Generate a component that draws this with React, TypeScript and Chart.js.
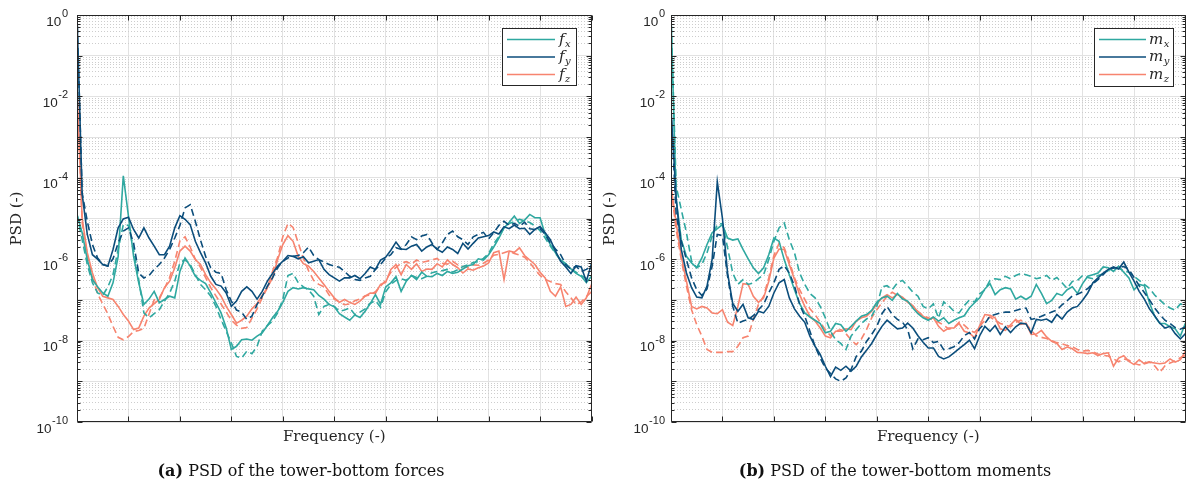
import React, { useEffect, useRef } from 'react';
import { Chart, registerables } from 'chart.js';

Chart.register(...registerables);

// Frequency axis (normalised, no tick labels in the reference)
const freq = [
  0, 0.1, 0.2, 0.3, 0.4, 0.5, 0.6, 0.7, 0.8, 0.9,
  1, 1.1, 1.2, 1.3, 1.4, 1.5, 1.6, 1.7, 1.8, 1.9,
  2, 2.1, 2.2, 2.3, 2.4, 2.5, 2.6, 2.7, 2.8, 2.9,
  3, 3.1, 3.2, 3.3, 3.4, 3.5, 3.6, 3.7, 3.8, 3.9,
  4, 4.1, 4.2, 4.3, 4.4, 4.5, 4.6, 4.7, 4.8, 4.9,
  5, 5.1, 5.2, 5.3, 5.4, 5.5, 5.6, 5.7, 5.8, 5.9,
  6, 6.1, 6.2, 6.3, 6.4, 6.5, 6.6, 6.7, 6.8, 6.9,
  7, 7.1, 7.2, 7.3, 7.4, 7.5, 7.6, 7.7, 7.8, 7.9,
  8, 8.1, 8.2, 8.3, 8.4, 8.5, 8.6, 8.7, 8.8, 8.9,
  9, 9.1, 9.2, 9.3, 9.4, 9.5, 9.6, 9.7, 9.8, 9.9,
  10,
];

// ---- Panel (a): log10(PSD) of tower-bottom forces ----
const fxSolid = [
  -4.90, -5.35, -6.01, -6.50, -6.68, -6.83, -6.91, -6.58, -5.93, -3.95,
  -4.94, -5.93, -6.58, -7.11, -6.98, -6.79, -7.07, -6.99, -6.91, -6.95,
  -6.30, -5.97, -6.17, -6.42, -6.52, -6.60, -6.83, -7.07, -7.32, -7.69,
  -8.22, -8.14, -7.98, -7.96, -7.99, -7.89, -7.81, -7.63, -7.44, -7.28,
  -7.06, -6.79, -6.70, -6.73, -6.70, -6.73, -6.75, -6.89, -6.98, -7.11,
  -7.17, -7.34, -7.42, -7.50, -7.37, -7.43, -7.28, -7.09, -6.87, -7.11,
  -6.68, -6.58, -6.43, -6.79, -6.54, -6.40, -6.50, -6.32, -6.42, -6.43,
  -6.35, -6.40, -6.30, -6.35, -6.32, -6.24, -6.16, -6.13, -5.99, -6.02,
  -5.89, -5.70, -5.48, -5.23, -5.09, -4.94, -5.12, -5.04, -4.90, -4.98,
  -4.98, -5.39, -5.64, -5.84, -6.02, -6.11, -6.24, -6.35, -6.42, -6.57,
  -6.42,
];
const fxDashed = [
  -4.90, -5.52, -6.13, -6.58, -6.83, -6.89, -6.68, -6.38, -5.76, -5.15,
  -5.17, -5.76, -6.50, -7.32, -7.44, -7.34, -7.24, -7.03, -6.83, -6.54,
  -6.09, -6.01, -6.13, -6.38, -6.62, -6.75, -6.91, -7.16, -7.48, -7.77,
  -8.06, -8.39, -8.43, -8.26, -8.32, -8.14, -7.77, -7.63, -7.52, -7.32,
  -6.99, -6.40, -6.35, -6.58, -6.68, -6.75, -6.91, -7.36, -7.16, -7.11,
  -7.16, -7.28, -7.25, -7.20, -7.36, -7.30, -7.22, -7.08, -7.02, -7.18,
  -6.80, -6.62, -6.52, -6.48, -6.52, -6.40, -6.45, -6.48, -6.42, -6.33,
  -6.30, -6.28, -6.25, -6.32, -6.26, -6.18, -6.14, -6.08, -6.06, -5.98,
  -5.86, -5.62, -5.45, -5.22, -5.12, -5.08, -5.02, -5.06, -5.10, -5.18,
  -5.30, -5.48, -5.68, -5.86, -6.02, -6.15, -6.24, -6.32, -6.40, -6.48,
  -6.45,
];
const fySolid = [
  0, -4.40, -5.39, -5.89, -6.00, -6.13, -6.17, -5.76, -5.23, -5.01,
  -4.97, -5.27, -5.48, -5.23, -5.48, -5.68, -5.89, -5.89, -5.68, -5.23,
  -4.93, -5.02, -5.15, -5.56, -5.84, -6.09, -6.42, -6.62, -6.66, -6.83,
  -7.16, -7.03, -6.79, -6.68, -6.79, -6.98, -6.79, -6.54, -6.35, -6.17,
  -6.05, -5.91, -5.93, -5.99, -5.94, -6.09, -6.05, -6.01, -6.25, -6.38,
  -6.46, -6.54, -6.46, -6.46, -6.40, -6.48, -6.35, -6.19, -6.25, -6.02,
  -5.95, -5.78, -5.58, -5.75, -5.76, -5.68, -5.64, -5.80, -5.70, -5.64,
  -5.76, -5.83, -5.70, -5.76, -5.86, -5.61, -5.75, -5.61, -5.48, -5.45,
  -5.42, -5.33, -5.38, -5.20, -5.25, -5.16, -5.25, -5.24, -5.39, -5.27,
  -5.20, -5.35, -5.52, -5.80, -6.05, -6.19, -6.35, -6.16, -6.19, -6.54,
  -6.11,
];
const fyDashed = [
  0, -4.37, -5.07, -5.64, -5.97, -6.13, -6.17, -5.99, -5.60, -5.31,
  -5.23, -5.60, -6.34, -6.46, -6.40, -6.25, -6.13, -5.97, -5.76, -5.48,
  -5.17, -4.74, -4.66, -5.07, -5.53, -5.93, -6.21, -6.32, -6.35, -6.75,
  -7.03, -7.25, -7.30, -7.48, -7.40, -7.11, -6.91, -6.66, -6.46, -6.21,
  -6.05, -5.97, -5.93, -5.91, -5.84, -5.70, -5.91, -6.01, -6.07, -6.13,
  -6.17, -6.20, -6.30, -6.42, -6.50, -6.52, -6.46, -6.42, -6.25, -6.13,
  -5.97, -5.89, -5.72, -5.76, -5.64, -5.45, -5.52, -5.43, -5.39, -5.60,
  -5.76, -5.60, -5.39, -5.31, -5.45, -5.52, -5.64, -5.45, -5.39, -5.34,
  -5.50, -5.35, -5.17, -5.07, -5.17, -5.12, -5.19, -5.09, -5.25, -5.27,
  -5.25, -5.39, -5.60, -5.75, -5.89, -6.13, -6.25, -6.17, -6.30, -6.25,
  -6.17,
];
const fzSolid = [
  -1.84, -5.00, -5.84, -6.34, -6.70, -6.91, -6.95, -6.99, -7.16, -7.36,
  -7.52, -7.73, -7.69, -7.40, -7.20, -7.09, -6.99, -6.70, -6.54, -6.21,
  -5.80, -5.68, -5.80, -6.01, -6.13, -6.38, -6.58, -6.73, -6.91, -7.16,
  -7.36, -7.57, -7.50, -7.40, -7.22, -7.09, -6.89, -6.70, -6.46, -6.01,
  -5.64, -5.42, -5.56, -5.93, -6.11, -6.17, -6.30, -6.46, -6.62, -6.79,
  -6.95, -7.06, -6.99, -7.06, -7.11, -7.03, -6.91, -6.83, -6.84, -6.62,
  -6.57, -6.25, -6.13, -6.38, -6.13, -6.25, -6.11, -6.30, -6.24, -6.25,
  -6.11, -6.19, -6.02, -6.13, -6.21, -6.34, -6.24, -6.27, -6.21, -6.17,
  -6.09, -5.84, -5.80, -6.50, -5.80, -5.83, -5.72, -5.91, -6.02, -6.13,
  -6.32, -6.46, -6.79, -6.91, -6.68, -7.16, -7.11, -6.93, -7.11, -6.95,
  -6.62,
];
const fzDashed = [
  -1.84, -5.10, -5.90, -6.45, -6.85, -7.10, -7.35, -7.65, -7.92, -7.98,
  -7.90, -7.78, -7.75, -7.70, -7.35, -7.00, -6.95, -6.72, -6.45, -6.05,
  -5.55, -5.45, -5.70, -6.00, -6.20, -6.45, -6.70, -6.90, -7.10, -7.30,
  -7.50, -7.62, -7.70, -7.68, -7.45, -7.22, -6.95, -6.70, -6.30, -5.95,
  -5.45, -5.12, -5.22, -5.60, -5.98, -6.28, -6.52, -6.62, -6.68, -6.88,
  -6.98, -7.05, -7.12, -7.10, -7.02, -6.98, -6.90, -6.88, -6.80, -6.66,
  -6.52, -6.32, -6.20, -6.10, -6.06, -6.12, -6.02, -6.08, -6.05, -6.02,
  -5.98, -6.10, -6.12, -6.05, -6.14, -6.18, -6.20, -6.14, -6.15, -6.10,
  -6.02, -5.90, -5.88, -5.84, -5.80, -5.86, -5.90, -5.95, -6.08, -6.25,
  -6.40, -6.50, -6.55, -6.60, -6.62, -6.80, -6.95, -7.12, -7.05, -6.92,
  -6.80,
];

// ---- Panel (b): log10(PSD) of tower-bottom moments ----
const mxSolid = [
  0, -4.53, -5.52, -5.93, -6.09, -6.21, -5.97, -5.64, -5.35, -5.25,
  -5.15, -5.48, -5.53, -5.50, -5.76, -5.99, -6.21, -6.35, -6.21, -5.89,
  -5.48, -5.56, -6.01, -6.38, -6.75, -7.09, -7.32, -7.42, -7.50, -7.58,
  -7.81, -7.77, -7.58, -7.61, -7.77, -7.65, -7.52, -7.40, -7.36, -7.26,
  -7.06, -6.95, -6.91, -7.01, -6.84, -6.98, -7.03, -7.20, -7.34, -7.44,
  -7.50, -7.42, -7.52, -7.44, -7.58, -7.50, -7.44, -7.39, -7.20, -7.07,
  -6.95, -6.73, -6.60, -6.87, -6.75, -6.70, -6.73, -6.98, -6.91, -6.99,
  -6.91, -6.62, -6.84, -7.09, -7.01, -6.84, -6.89, -6.75, -6.68, -6.84,
  -6.60, -6.42, -6.38, -6.34, -6.19, -6.21, -6.30, -6.17, -6.32, -6.46,
  -6.75, -6.62, -6.65, -7.07, -7.40, -7.58, -7.58, -7.66, -7.71, -7.89,
  -7.57,
];
const mxDashed = [
  0, -4.20, -4.78, -5.35, -6.05, -6.21, -6.13, -5.84, -5.43, -5.15,
  -5.12, -5.72, -6.34, -6.62, -6.50, -6.62, -6.58, -6.48, -6.38, -6.01,
  -5.56, -5.23, -5.11, -5.52, -5.84, -6.34, -6.62, -6.84, -6.95, -7.16,
  -7.44, -7.77, -7.98, -8.07, -8.22, -7.89, -7.73, -7.58, -7.47, -7.40,
  -7.16, -6.68, -6.65, -6.75, -6.58, -6.52, -6.66, -6.81, -6.91, -7.16,
  -7.22, -7.10, -7.45, -7.05, -7.15, -7.28, -7.32, -7.14, -7.00, -7.05,
  -6.85, -6.75, -6.52, -6.48, -6.50, -6.42, -6.48, -6.40, -6.35, -6.38,
  -6.42, -6.48, -6.45, -6.40, -6.52, -6.45, -6.58, -6.72, -6.55, -6.52,
  -6.40, -6.45, -6.48, -6.40, -6.36, -6.28, -6.20, -6.22, -6.28, -6.32,
  -6.42, -6.52, -6.62, -6.72, -6.88, -7.00, -7.12, -7.20, -7.25, -7.10,
  -7.14,
];
const mySolid = [
  -2.30, -4.50, -5.76, -6.34, -6.70, -6.93, -6.95, -6.66, -6.00, -4.10,
  -5.00, -6.34, -7.09, -7.28, -7.11, -7.44, -7.48, -7.28, -7.32, -7.16,
  -6.83, -6.58, -6.50, -6.95, -7.22, -7.40, -7.55, -7.89, -8.14, -8.34,
  -8.63, -8.88, -8.65, -8.73, -8.63, -8.75, -8.63, -8.40, -8.24, -8.07,
  -7.85, -7.65, -7.50, -7.61, -7.71, -7.69, -7.57, -7.69, -7.88, -8.04,
  -8.18, -8.18, -8.39, -8.45, -8.40, -8.30, -8.20, -8.10, -7.99, -8.20,
  -7.88, -7.65, -7.77, -7.63, -7.85, -7.66, -7.80, -7.66, -7.57, -7.59,
  -7.81, -7.48, -7.50, -7.47, -7.55, -7.36, -7.47, -7.30, -7.20, -7.16,
  -7.01, -6.83, -6.58, -6.46, -6.34, -6.25, -6.19, -6.24, -6.07, -6.32,
  -6.54, -6.79, -6.98, -7.22, -7.39, -7.57, -7.69, -7.65, -7.83, -7.96,
  -7.83,
];
const myDashed = [
  -2.30, -4.90, -5.56, -6.01, -6.46, -6.75, -6.89, -6.73, -6.17, -5.39,
  -5.42, -6.42, -7.16, -7.57, -7.52, -7.48, -7.39, -7.24, -7.11, -6.83,
  -6.58, -6.25, -6.16, -6.34, -6.66, -7.11, -7.40, -7.77, -8.14, -8.43,
  -8.67, -8.81, -8.94, -9.00, -8.92, -8.71, -8.39, -8.26, -8.02, -7.85,
  -7.65, -7.34, -7.16, -7.36, -7.48, -7.55, -7.73, -8.20, -7.96, -7.98,
  -7.93, -8.05, -8.02, -8.22, -8.20, -8.15, -8.05, -7.88, -7.80, -7.96,
  -7.70, -7.58, -7.40, -7.36, -7.32, -7.30, -7.30, -7.26, -7.22, -7.20,
  -7.48, -7.45, -7.40, -7.35, -7.30, -7.25, -7.12, -7.02, -6.90, -6.86,
  -6.80, -6.72, -6.60, -6.50, -6.38, -6.25, -6.22, -6.20, -6.18, -6.25,
  -6.45, -6.65, -6.82, -7.00, -7.20, -7.36, -7.50, -7.58, -7.68, -7.72,
  -7.66,
];
const mzSolid = [
  -4.20, -5.11, -5.93, -6.54, -7.16, -7.22, -7.16, -7.20, -7.32, -7.34,
  -7.24, -7.55, -7.63, -7.16, -6.60, -6.62, -6.91, -7.06, -6.95, -6.54,
  -5.97, -5.75, -5.76, -6.13, -6.50, -6.87, -7.16, -7.40, -7.52, -7.69,
  -7.89, -7.93, -7.77, -7.77, -7.71, -7.73, -7.52, -7.44, -7.40, -7.28,
  -7.11, -6.95, -6.87, -6.95, -6.87, -6.93, -7.06, -7.14, -7.30, -7.40,
  -7.48, -7.44, -7.65, -7.77, -7.69, -7.69, -7.58, -7.77, -7.81, -7.93,
  -7.63, -7.36, -7.38, -7.44, -7.71, -7.75, -7.61, -7.48, -7.60, -7.57,
  -7.85, -7.84, -7.75, -7.91, -8.02, -8.07, -8.22, -8.16, -8.20, -8.29,
  -8.30, -8.32, -8.30, -8.37, -8.32, -8.30, -8.63, -8.43, -8.37, -8.51,
  -8.59, -8.47, -8.57, -8.53, -8.55, -8.57, -8.55, -8.45, -8.53, -8.47,
  -8.26,
];
const mzDashed = [
  -4.25, -5.27, -6.01, -6.66, -7.24, -7.61, -7.89, -8.22, -8.29, -8.29,
  -8.29, -8.27, -8.27, -8.14, -7.93, -7.89, -7.48, -7.11, -6.91, -6.46,
  -5.91, -5.61, -5.72, -6.05, -6.46, -6.75, -6.99, -7.22, -7.36, -7.55,
  -7.73, -7.88, -7.77, -7.73, -7.83, -7.98, -8.10, -7.96, -7.73, -7.44,
  -7.24, -7.07, -6.91, -6.81, -6.89, -6.95, -7.03, -7.16, -7.28, -7.39,
  -7.44, -7.50, -7.55, -7.62, -7.72, -7.68, -7.55, -7.62, -7.74, -7.80,
  -7.65, -7.50, -7.42, -7.50, -7.58, -7.62, -7.66, -7.55, -7.50, -7.58,
  -7.75, -7.88, -7.92, -7.95, -8.00, -8.05, -8.08, -8.12, -8.15, -8.22,
  -8.26, -8.24, -8.28, -8.33, -8.36, -8.38, -8.45, -8.52, -8.45, -8.48,
  -8.56, -8.60, -8.55, -8.52, -8.62, -8.78, -8.62, -8.55, -8.50, -8.42,
  -8.36,
];

// ---- Axis ticks / labels ----
const xMajorTicks = [0, 1, 2, 3, 4, 5, 6, 7, 8, 9, 10];
const yDecades = [-10, -9, -8, -7, -6, -5, -4, -3, -2, -1, 0];
const yMinorMantissas = [2, 3, 4, 5, 6, 7, 8, 9];
const yLabelExponents = [0, -2, -4, -6, -8, -10];

const TEAL = '#2fa8a0';
const NAVY = '#0b4d7b';
const SALMON = '#f7846f';
const AXIS = '#262626';

const yGridValues: number[] = (() => {
  const out: number[] = [];
  for (const d of yDecades) {
    out.push(Math.pow(10, d));
    if (d < 0) for (const m of yMinorMantissas) out.push(m * Math.pow(10, d));
  }
  return out.sort((a, b) => a - b);
})();

function isDecade(v: number) {
  const l = Math.log10(v);
  return Math.abs(l - Math.round(l)) < 1e-6;
}

function toPoints(logs: number[]) {
  return freq.map((f, i) => ({ x: f, y: Math.pow(10, logs[i]) }));
}

const BASE_FONT = '13.5px "Liberation Sans"';
const EXP_FONT = '11px "Liberation Sans"';

const framePlugin = {
  id: 'matlabFrame',
  afterDraw(chart: any, _args: any, opts: any) {
    const { ctx, chartArea } = chart;
    const xs = chart.scales.x;
    const ys = chart.scales.y;
    const L = Math.round(chartArea.left) + 0.5;
    const R = Math.round(chartArea.right) - 0.5;
    const T = Math.round(chartArea.top) + 0.5;
    const B = Math.round(chartArea.bottom) - 0.5;
    ctx.save();
    ctx.strokeStyle = AXIS;
    ctx.lineWidth = 1;
    ctx.setLineDash([]);
    ctx.beginPath();
    ctx.rect(L, T, R - L, B - T);
    for (const v of xMajorTicks) {
      const px = Math.round(xs.getPixelForValue(v)) + 0.5;
      ctx.moveTo(px, B); ctx.lineTo(px, B - 5);
      ctx.moveTo(px, T); ctx.lineTo(px, T + 5);
    }
    for (const v of yGridValues) {
      const py = Math.round(ys.getPixelForValue(v)) + 0.5;
      const len = isDecade(v) ? 5 : 3;
      ctx.moveTo(L, py); ctx.lineTo(L + len, py);
      ctx.moveTo(R, py); ctx.lineTo(R - len, py);
    }
    ctx.stroke();

    // y tick labels: 10^e
    ctx.fillStyle = AXIS;
    ctx.textAlign = 'left';
    ctx.textBaseline = 'alphabetic';
    for (const e of yLabelExponents) {
      const py = ys.getPixelForValue(Math.pow(10, e));
      ctx.font = BASE_FONT;
      const wb = ctx.measureText('10').width;
      ctx.font = EXP_FONT;
      const es = String(e);
      const we = ctx.measureText(es).width;
      const xr = chartArea.left - opts.labelGap;
      ctx.font = BASE_FONT;
      ctx.fillText('10', xr - we - wb - 0.5, py + 10.5);
      ctx.font = EXP_FONT;
      ctx.fillText(es, xr - we, py + 2);
    }

    // legend
    const lg = opts.legend;
    ctx.fillStyle = '#ffffff';
    ctx.fillRect(lg.x, lg.y, lg.w, lg.h);
    ctx.strokeStyle = AXIS;
    ctx.lineWidth = 1;
    ctx.strokeRect(lg.x + 0.5, lg.y + 0.5, lg.w, lg.h);
    lg.items.forEach((it: any, i: number) => {
      const yy = lg.rows[i];
      ctx.strokeStyle = it.color;
      ctx.lineWidth = 1.6;
      ctx.beginPath();
      ctx.moveTo(lg.lineX0, yy);
      ctx.lineTo(lg.lineX1, yy);
      ctx.stroke();
      ctx.fillStyle = AXIS;
      ctx.font = 'italic 15px "DejaVu Serif"';
      ctx.fillText(it.base, lg.textX, yy + 4);
      const wb = ctx.measureText(it.base).width;
      ctx.font = 'italic 10px "DejaVu Serif"';
      ctx.fillText(it.sub, lg.textX + wb + 0.5, yy + 7);
    });

    // caption
    const cap = opts.caption;
    ctx.fillStyle = '#111111';
    ctx.font = 'bold 16px "DejaVu Serif"';
    const w1 = ctx.measureText(cap.tag).width;
    ctx.font = '16px "DejaVu Serif"';
    const w2 = ctx.measureText(cap.text).width;
    const x0 = cap.cx - (w1 + w2) / 2;
    ctx.font = 'bold 16px "DejaVu Serif"';
    ctx.fillText(cap.tag, x0, cap.y);
    ctx.font = '16px "DejaVu Serif"';
    ctx.fillText(cap.text, x0 + w1, cap.y);
    ctx.restore();
  },
};

type PanelProps = {
  left: number;
  yWidth: number;
  padRight: number;
  labelGap: number;
  series: { data: number[]; color: string; dashed: boolean; label: string }[];
  legend: any;
  caption: any;
};

function Panel({ left, yWidth, padRight, labelGap, series, legend, caption }: PanelProps) {
  const ref = useRef<HTMLCanvasElement | null>(null);
  useEffect(() => {
    if (!ref.current) return;
    const chart = new Chart(ref.current, {
      type: 'line',
      data: {
        datasets: series.map((s) => ({
          label: s.label,
          data: toPoints(s.data),
          borderColor: s.color,
          backgroundColor: s.color,
          borderWidth: 1.6,
          borderDash: s.dashed ? [7, 4] : [],
          pointRadius: 0,
          fill: false,
          tension: 0,
        })),
      },
      options: {
        animation: false,
        responsive: false,
        devicePixelRatio: 1,
        events: [],
        layout: { padding: { top: 15, right: padRight, bottom: 0, left: 0 } },
        plugins: {
          legend: { display: false },
          tooltip: { enabled: false },
          matlabFrame: { labelGap, legend, caption },
        } as any,
        scales: {
          x: {
            type: 'linear',
            min: 0,
            max: 10,
            afterBuildTicks: (s: any) => {
              s.ticks = xMajorTicks.map((v) => ({ value: v }));
            },
            ticks: { display: false },
            grid: { color: '#e2e2e2', lineWidth: 1, drawTicks: false },
            border: { display: false },
            title: {
              display: true,
              text: 'Frequency (-)',
              color: AXIS,
              font: { family: 'DejaVu Serif', size: 15 },
              padding: { top: 0, bottom: 40 },
            },
            afterFit: (s: any) => {
              s.height = 64;
            },
          },
          y: {
            type: 'logarithmic',
            min: 1e-10,
            max: 1,
            afterBuildTicks: (s: any) => {
              s.ticks = yGridValues.map((v) => ({ value: v }));
            },
            ticks: { display: false },
            grid: {
              color: (c: any) => (c.tick && isDecade(c.tick.value) ? '#e2e2e2' : '#cdcdcd'),
              lineWidth: 1,
              drawTicks: false,
            },
            border: {
              display: false,
              dash: (c: any) => (c.tick && !isDecade(c.tick.value) ? [1, 2] : []),
            },
            title: {
              display: true,
              text: 'PSD (-)',
              color: AXIS,
              font: { family: 'DejaVu Serif', size: 15 },
              padding: { top: 8.5, bottom: 0 },
            },
            afterFit: (s: any) => {
              s.width = yWidth;
            },
          },
        } as any,
      },
      plugins: [framePlugin],
    } as any);
    return () => chart.destroy();
  }, []);
  return (
    <canvas
      ref={ref}
      width={593}
      height={486}
      style={{ position: 'absolute', left, top: 0, width: 593, height: 486, display: 'block' }}
    />
  );
}

const seriesA = [
  { data: fySolid, color: NAVY, dashed: false, label: 'f_y' },
  { data: fyDashed, color: NAVY, dashed: true, label: 'f_y (dashed)' },
  { data: fxSolid, color: TEAL, dashed: false, label: 'f_x' },
  { data: fxDashed, color: TEAL, dashed: true, label: 'f_x (dashed)' },
  { data: fzSolid, color: SALMON, dashed: false, label: 'f_z' },
  { data: fzDashed, color: SALMON, dashed: true, label: 'f_z (dashed)' },
];
const seriesB = [
  { data: mySolid, color: NAVY, dashed: false, label: 'm_y' },
  { data: myDashed, color: NAVY, dashed: true, label: 'm_y (dashed)' },
  { data: mxSolid, color: TEAL, dashed: false, label: 'm_x' },
  { data: mxDashed, color: TEAL, dashed: true, label: 'm_x (dashed)' },
  { data: mzSolid, color: SALMON, dashed: false, label: 'm_z' },
  { data: mzDashed, color: SALMON, dashed: true, label: 'm_z (dashed)' },
];

const legendA = {
  x: 502, y: 28, w: 74, h: 57,
  lineX0: 507, lineX1: 555, textX: 559, rows: [39.5, 57, 74.5],
  items: [
    { base: 'f', sub: 'x', color: TEAL },
    { base: 'f', sub: 'y', color: NAVY },
    { base: 'f', sub: 'z', color: SALMON },
  ],
};
const legendB = {
  x: 501, y: 28, w: 79, h: 58,
  lineX0: 506, lineX1: 553, textX: 556, rows: [39.5, 57, 74.5],
  items: [
    { base: 'm', sub: 'x', color: TEAL },
    { base: 'm', sub: 'y', color: NAVY },
    { base: 'm', sub: 'z', color: SALMON },
  ],
};

export default function App() {
  return (
    <div style={{ position: 'absolute', left: 0, top: 0, width: 1186, height: 486, background: '#ffffff' }}>
      <Panel
        left={0}
        yWidth={77}
        padRight={1.5}
        labelGap={9}
        series={seriesA}
        legend={legendA}
        caption={{ tag: '(a)', text: ' PSD of the tower-bottom forces', cx: 301, y: 476 }}
      />
      <Panel
        left={593}
        yWidth={78}
        padRight={0.5}
        labelGap={6}
        series={seriesB}
        legend={legendB}
        caption={{ tag: '(b)', text: ' PSD of the tower-bottom moments', cx: 302, y: 476 }}
      />
    </div>
  );
}
